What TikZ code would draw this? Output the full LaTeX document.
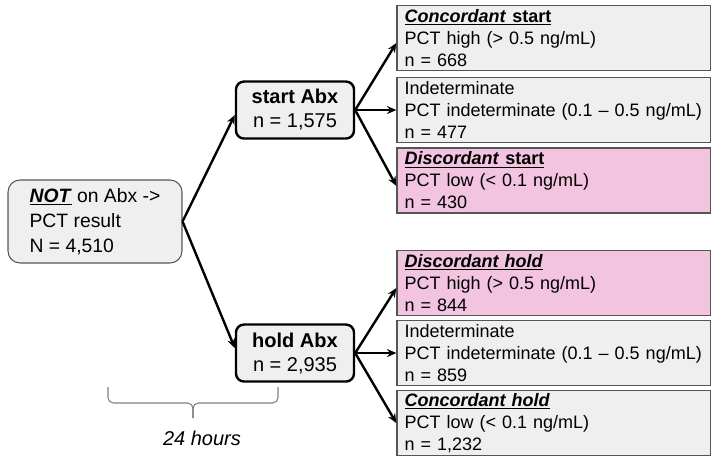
\documentclass[tikz,border=0pt]{standalone}
\usepackage{fontspec}
\setmainfont{Liberation Sans}
\usetikzlibrary{arrows.meta,positioning}
\definecolor{boxgray}{HTML}{EFEFEF}
\definecolor{boxpink}{HTML}{F2C4DF}
\definecolor{edgegray}{HTML}{555555}

\begin{document}
\begin{tikzpicture}[x=0.75pt,y=-0.75pt,on grid,
    >={Stealth[length=7pt,width=6pt]}]
  \tikzstyle{rootB}=[rectangle,rounded corners=9pt,draw=edgegray,line width=0.8pt,fill=boxgray,
    minimum width=130.5pt,minimum height=62.25pt,align=left,
    font=\fontsize{14.5}{18.75}\selectfont]
  \tikzstyle{armB}=[rectangle,rounded corners=6pt,draw=black,line width=1.8pt,fill=boxgray,
    minimum width=88.5pt,minimum height=42.75pt,align=center,
    font=\fontsize{15}{18}\selectfont]
  \tikzstyle{pctB}=[rectangle,draw=edgegray,line width=1pt,fill=boxgray,
    text width=224pt,inner xsep=5.75pt,inner ysep=0pt,minimum height=48.75pt,align=left,
    font=\fontsize{13.5}{16.5}\selectfont]
  \tikzstyle{discB}=[pctB,fill=boxpink]
  \tikzstyle{arr}=[->,line width=1.8pt]
  \tikzstyle{brc}=[draw=gray,line width=0.8pt,rounded corners=4pt]
  \useasboundingbox (0,0) rectangle (711,456);
  % Boxes
  \node[rootB] (root) at (95,221.5) {\underline{\textbf{\textit{NOT}}} on Abx ->\\PCT result\\N = 4,510};
  \node[armB] (start) [above right=83.6pt and 150pt of root] {\textbf{start Abx}\\n = 1,575};
  \node[armB] (hold) [below=182.25pt of start] {\textbf{hold Abx}\\n = 2,935};
  \node[pctB] (c2) [right=194.25pt of start] {Indeterminate\\PCT indeterminate (0.1 -- 0.5 ng/mL)\\n = 477};
  \node[pctB] (c1) [above=54pt of c2] {\underline{\textbf{\textit{Concordant}} \textbf{start}}\\PCT high (> 0.5 ng/mL)\\n = 668};
  \node[discB] (c3) [below=52.9pt of c2] {\underline{\textbf{\textit{Discordant}} \textbf{start}}\\PCT low (< 0.1 ng/mL)\\n = 430};
  \node[pctB] (c5) [right=194.25pt of hold] {Indeterminate\\PCT indeterminate (0.1 -- 0.5 ng/mL)\\n = 859};
  \node[discB] (c4) [above=52.5pt of c5] {\underline{\textbf{\textit{Discordant hold}}}\\PCT high (> 0.5 ng/mL)\\n = 844};
  \node[pctB] (c6) [below=52.5pt of c5] {\underline{\textbf{\textit{Concordant hold}}}\\PCT low (< 0.1 ng/mL)\\n = 1,232};
  % Transitions
  \path[arr] (root.east) edge ([yshift=-3.75pt]start.west);
  \path[arr] (root.east) edge ([yshift=3.75pt]hold.west);
  \path[arr] (start.east) edge ([yshift=-3.75pt]c1.west);
  \path[arr] (start.east) edge (c2.west);
  \path[arr] (start.east) edge ([yshift=-4pt]c3.west);
  \path[arr] (hold.east) edge ([yshift=-3.75pt]c4.west);
  \path[arr] (hold.east) edge (c5.west);
  \path[arr] (hold.east) edge (c6.west);
  % 24 hours brace
  \coordinate (bl) at (108,387);
  \coordinate (br) at (278,387);
  \coordinate (bm) at (193,403);
  \coordinate (btip) at (193,418);
  \draw[brc] (bl) |- (bm) -- (btip);
  \draw[brc] (br) |- (bm) -- (btip);
  \node[font=\fontsize{15}{18}\selectfont\itshape] (hrs) at (202,438) {24 hours};
\end{tikzpicture}
\end{document}
